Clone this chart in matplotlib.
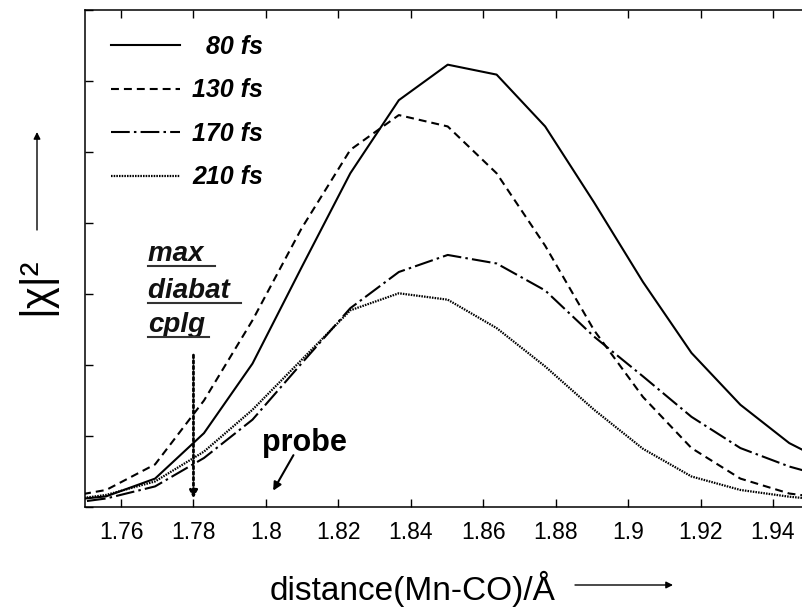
import numpy as np
import matplotlib
matplotlib.use("Agg")
import matplotlib.pyplot as plt

plt.rcParams['font.family'] = ['Liberation Sans', 'DejaVu Sans']

# Mn-CO distance grid (Angstrom)
dist = [1.7425, 1.7559, 1.7694, 1.7829, 1.7963, 1.8098, 1.8233, 1.8367, 1.8502,
        1.8637, 1.8771, 1.8906, 1.9041, 1.9175, 1.9310, 1.9445, 1.9580]

chi_80 = [0.08, 0.15, 0.40, 1.04, 2.02, 3.37, 4.70, 5.73, 6.23,
          6.09, 5.36, 4.29, 3.17, 2.17, 1.44, 0.90, 0.55]
chi_130 = [0.12, 0.24, 0.60, 1.50, 2.63, 3.92, 5.03, 5.52, 5.36,
           4.70, 3.68, 2.49, 1.55, 0.83, 0.40, 0.19, 0.10]
chi_170 = [0.03, 0.12, 0.29, 0.69, 1.23, 2.02, 2.80, 3.31, 3.55,
           3.43, 3.05, 2.40, 1.84, 1.27, 0.83, 0.57, 0.38]
chi_210 = [0.08, 0.17, 0.36, 0.78, 1.37, 2.07, 2.77, 3.01, 2.92,
           2.52, 1.98, 1.37, 0.82, 0.43, 0.24, 0.145, 0.08]

labels = ["  80 fs", "130 fs", "170 fs", "210 fs"]
xticks = [1.76, 1.78, 1.80, 1.82, 1.84, 1.86, 1.88, 1.90, 1.92, 1.94]

W, H = 803, 607
fig = plt.figure(figsize=(W / 100, H / 100), dpi=100)
# axes runs slightly past the right edge, like the cropped original
ax = fig.add_axes([84.8 / W, 1 - 507 / H, 724.4 / W, 497 / H])

lw = 1.5
ax.plot(dist, chi_80, color='black', lw=lw, ls='-', label=labels[0])
ax.plot(dist, chi_130, color='black', lw=lw, ls=(0, (3.8, 2.4)), label=labels[1])
ax.plot(dist, chi_170, color='black', lw=lw, ls=(0, (9, 2, 1.2, 2)), label=labels[2])
ax.plot(dist, chi_210, color='black', lw=1.6, ls=(0, (0.7, 0.5)), label=labels[3])

ax.set_xlim(1.75, 1.95)
ax.set_ylim(0, 7)
ax.set_xticks(xticks)
ax.set_xticklabels(['%g' % t for t in xticks], fontsize=16.5)
ax.set_yticks(range(0, 8))
ax.set_yticklabels([])
ax.tick_params(direction='in', length=6, width=1, top=True, right=False, pad=10)
for s in ax.spines.values():
    s.set_linewidth(1.1)

leg = ax.legend(loc='upper left', bbox_to_anchor=(0.036, 0.95), frameon=False,
                borderpad=0, borderaxespad=0, handlelength=2.75, handletextpad=0.5,
                labelspacing=0.78, prop=dict(size=18, weight='bold', style='italic'))

# annotation: max diabatic coupling
ann_font = dict(fontsize=20, fontweight='bold', fontstyle='italic', color='#111111')
words = ["max ", "diabat ", "cplg"]
ys = [3.46, 2.94, 2.46]
txts = [ax.text(1.7674, y, w, va='baseline', ha='left', **ann_font) for w, y in zip(words, ys)]

ax.annotate('', xy=(1.78, 0.12), xytext=(1.78, 2.14),
            arrowprops=dict(arrowstyle='-|>', lw=2, ls=(0, (1, 1)), color='black',
                            mutation_scale=11, shrinkA=0, shrinkB=0))

ax.text(1.7989, 0.90, 'probe', fontsize=22, fontweight='bold', va='center', ha='left')
ax.annotate('', xy=(1.8020, 0.23), xytext=(1.8076, 0.73),
            arrowprops=dict(arrowstyle='-|>', lw=1.5, color='black',
                            mutation_scale=12, shrinkA=0, shrinkB=0))

# axis labels with arrows
fig.text(412.5 / W, 1 - 600 / H, 'distance(Mn-CO)/Å', fontsize=24,
         ha='center', va='baseline')
fig.text(36 / W, 1 - 286 / H, '|χ|²', fontsize=30, rotation=90,
         ha='center', va='center')
ax.annotate('', xy=(673 / W, 1 - 585 / H), xytext=(575 / W, 1 - 585 / H),
            xycoords='figure fraction', textcoords='figure fraction',
            arrowprops=dict(arrowstyle='-|>', lw=1, color='black',
                            mutation_scale=10, shrinkA=0, shrinkB=0))
ax.annotate('', xy=(37 / W, 1 - 132 / H), xytext=(37 / W, 1 - 230 / H),
            xycoords='figure fraction', textcoords='figure fraction',
            arrowprops=dict(arrowstyle='-|>', lw=1, color='black',
                            mutation_scale=10, shrinkA=0, shrinkB=0))

# underline the annotation words
fig.canvas.draw()
inv = fig.transFigure.inverted()
for t in txts:
    bb = t.get_window_extent()
    y0 = bb.y0 + 1
    x0, yy = inv.transform((bb.x0, y0))
    x1, _ = inv.transform((bb.x1 + 4, y0))
    fig.add_artist(plt.Line2D([x0, x1], [yy, yy], color='#333333', lw=1.5))

fig.savefig('out.png', dpi=100)
